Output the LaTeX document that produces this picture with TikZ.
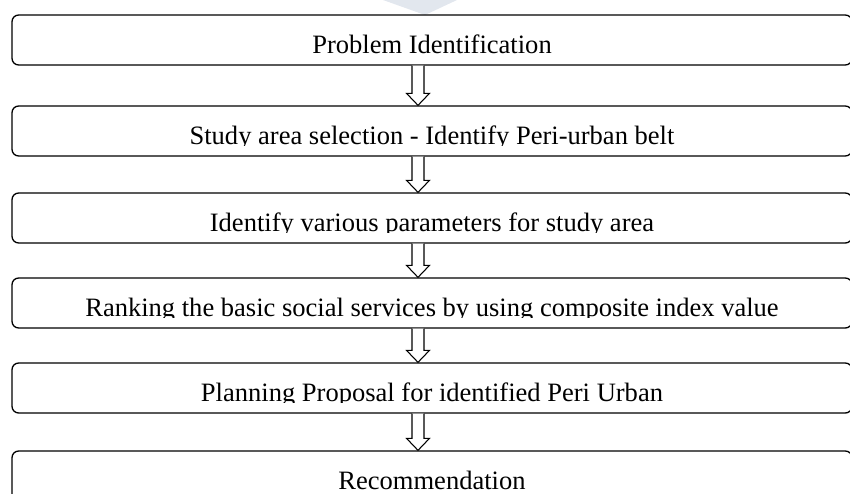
\documentclass[tikz,border=0pt]{standalone}
\usepackage{fontspec}
\setmainfont{Liberation Serif}
\usepackage{tikz}
\usetikzlibrary{calc}

\definecolor{wmark}{RGB}{226,231,238}

\tikzset{
    stepbox/.style={draw, line width=1pt, rounded corners=5pt, fill=white,
        minimum width=630pt, minimum height=37.5pt, inner sep=0pt},
    steplabel/.style={inner sep=0pt, font=\fontsize{19.9}{24}\selectfont},
    arrowline/.style={draw, line width=0.8pt, fill=white, line join=miter}
}

% label of a step, cut off at the bottom as in the original
\newcommand{\steptext}[3]{%
    \begin{scope}
        \clip (#1.north west) rectangle ($(#1.south east)+(0,-11)$);
        \node[steplabel, anchor=base] (#2) at ($(#1.center)+(0,13)$) {#3};
    \end{scope}}

% hollow block arrow between two steps
\newcommand{\hollowarrow}[2]{%
    \draw[arrowline] ($(#1.south -| ax)+(-6,0)$) -- ($(#2.north -| ax)+(-6,-12)$)
        -- ++(-5.5,0) -- (#2.north -| ax) -- ++(11.5,-12) -- ++(-5.5,0)
        -- ($(#1.south -| ax)+(6,0)$);}

\begin{document}
\begin{tikzpicture}[x=0.75pt, y=-0.75pt]
    \useasboundingbox (0,0) rectangle (850,493);
    % Watermark
    \fill[wmark] (383,0) -- (457,0) -- (425,15) -- cycle;
    % Steps
    \node[stepbox] (prob) at (432,40) {};
    \node[stepbox] (area) at (432,131) {};
    \node[stepbox] (param) at (432,218) {};
    \node[stepbox] (rank) at (432,303) {};
    \node[stepbox] (plan) at (432,388) {};
    \node[stepbox] (recom) at (432,476) {};
    \coordinate (ax) at (418,0);
    % Labels
    \steptext{prob}{probtext}{Problem Identification}
    \steptext{area}{areatext}{Study area selection - Identify Peri-urban belt}
    \steptext{param}{paramtext}{Identify various parameters for study area}
    \steptext{rank}{ranktext}{Ranking the basic social services by using composite index value}
    \steptext{plan}{plantext}{Planning Proposal for identified Peri Urban}
    \steptext{recom}{recomtext}{Recommendation}
    % Arrows
    \hollowarrow{prob}{area}
    \hollowarrow{area}{param}
    \hollowarrow{param}{rank}
    \hollowarrow{rank}{plan}
    \hollowarrow{plan}{recom}
\end{tikzpicture}
\end{document}
